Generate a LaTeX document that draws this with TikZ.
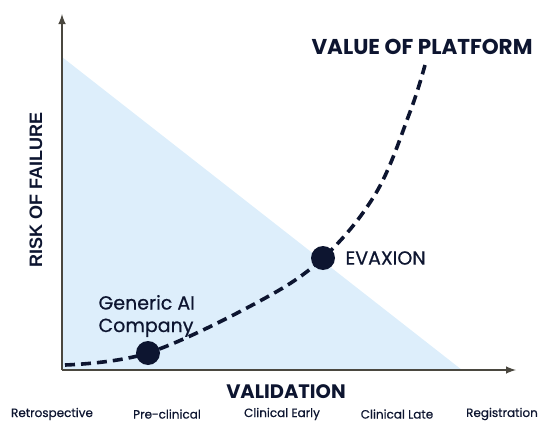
\documentclass[tikz,border=0pt]{standalone}
\usepackage{fontspec}
\setmainfont{Poppins}
\newfontfamily\medfont[FakeBold=0.6]{Poppins}
\newfontfamily\riskfont{Liberation Sans}
\usetikzlibrary{positioning}

\definecolor{navy}{HTML}{0D1530}
\definecolor{axisgrey}{HTML}{4A473F}
\definecolor{riskblue}{HTML}{DDEEFB}

\begin{document}
\begin{tikzpicture}[x = 1pt, y = -1pt]

            \useasboundingbox (0,0) rectangle (539,423);
            \fill [riskblue] (62,57) -- (462,370) -- (62,370) -- cycle;
            \draw [-latex, axisgrey, line width = 2.4pt] (62,370) -- (62,14);
            \draw [-latex, axisgrey, line width = 2.4pt] (62,370) -- (516,370);

            \coordinate (start) at (65,365);
            \coordinate (top) at (425,65);
            \node [circle, fill = navy, minimum size = 24pt, inner sep = 0pt] (generic) at (148,353) {};
            \node [circle, fill = navy, minimum size = 24pt, inner sep = 0pt] (evaxion) at (323,258) {};
            \draw [navy, line width = 3.6pt, dash pattern = on 10pt off 6pt, smooth, tension = 0.6]
              plot coordinates {(start) (generic) (258,302) (evaxion) (376,193) (410,112) (top)};

            \node [navy, font = \bfseries\fontsize{21.5}{24}\selectfont] (platform) at (422,47) {VALUE OF PLATFORM};
            \node [navy, font = \medfont\fontsize{19}{22}\selectfont, anchor = west] (evaxlabel) at (342,258) {EVAXION};
            \node [navy, font = \medfont\fontsize{19}{22.5}\selectfont, align = left, anchor = west] (genlabel) at (95,316) {Generic AI\\Company};
            \node [navy, font = \riskfont\bfseries\fontsize{18}{20}\selectfont, rotate = 90] (risk) at (36,190) {RISK OF FAILURE};
            \node [navy, font = \bfseries\fontsize{19.5}{22}\selectfont] (validation) at (286,392) {VALIDATION};
            \foreach \x/\stage in {52/Retrospective, 167/Pre-clinical, 282/Clinical Early, 397/Clinical Late, 502/Registration} {
              \node [navy, font = \medfont\fontsize{12}{14}\selectfont] at (\x,414) {\stage};
            }
            \end{tikzpicture}
\end{document}
